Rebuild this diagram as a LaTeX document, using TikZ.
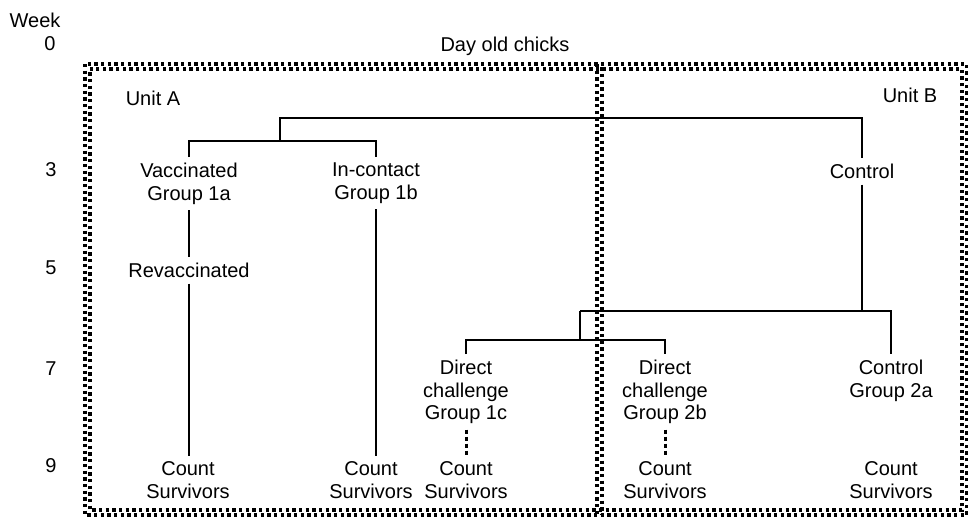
\documentclass[tikz,border=0pt]{standalone}
\usepackage{fontspec}
\setmainfont{Liberation Sans}
\begin{document}
\begin{tikzpicture}[x=0.75pt,y=-0.75pt,
  lbl/.style={inner sep=0pt, outer sep=4.5pt, align=center, anchor=north, font=\fontsize{15}{16.9}\selectfont},
  conn/.style={line width=1.5pt},
  dotconn/.style={line width=2.25pt, dash pattern=on 3pt off 2.25pt},
  brd/.style={line width=2.5pt, dash pattern=on 2.5pt off 2.5pt},
  brdB/.style={brd, dash phase=2.5pt}]
\useasboundingbox (0,0) rectangle (968,519);
% borders
\draw[brd] (85,64) rectangle (967,515);
\draw[brdB] (90,69) rectangle (962,510);
\draw[brd] (597,64) -- (597,515);
\draw[brdB] (602,64) -- (602,515);
% week scale
\node[lbl] (week) at (35,7) {Week};
\node[lbl] (n0) at (50,31) {0};
\node[lbl] (n3) at (51,157) {3};
\node[lbl] (n5) at (51,255) {5};
\node[lbl] (n7) at (51,356) {7};
\node[lbl] (n9) at (51,453) {9};
% labels
\node[lbl] (day) at (505,31) {Day old chicks};
\node[lbl] (unitA) at (153,85) {Unit A};
\node[lbl] (unitB) at (910,82) {Unit B};
\node[lbl] (g1a) at (189,157) {Vaccinated\\Group 1a};
\node[lbl] (g1b) at (376,157) {In-contact\\Group 1b};
\node[lbl] (control) at (862,158) {Control};
\node[lbl] (reva) at (189,257) {Revaccinated};
\node[lbl] (g1c) at (466,354) {Direct\\challenge\\Group 1c};
\node[lbl] (g2b) at (665,354) {Direct\\challenge\\Group 2b};
\node[lbl] (g2a) at (891,354) {Control\\Group 2a};
\node[lbl] (cs1) at (188,456) {Count\\Survivors};
\node[lbl] (cs2) at (371,456) {Count\\Survivors};
\node[lbl] (cs3) at (466,456) {Count\\Survivors};
\node[lbl] (cs4) at (665,456) {Count\\Survivors};
\node[lbl] (cs5) at (891,456) {Count\\Survivors};
% junctions
\coordinate (t0) at (280,118);
\coordinate (t1) at (280,141);
\coordinate (t2) at (862,311);
\coordinate (t3) at (580,311);
\coordinate (t4) at (580,340);
% connectors
\draw[conn] (g1a.north) |- (t1) -| (g1b.north);
\draw[conn] (t1) -- (t0) -| (control.north);
\draw[conn] (g1a.south) -- (g1a.south |- reva.north);
\draw[conn] (reva.south) -- (reva.south |- cs1.north);
\draw[conn] (g1b.south) -- (g1b.south |- cs2.north);
\draw[conn] (control.south) -- (t2);
\draw[conn] (t3) -| (g2a.north);
\draw[conn] (t3) -- (t4);
\draw[conn] (g1c.north) |- (t4) -| (g2b.north);
\draw[dotconn] (g1c.south) -- (g1c.south |- cs3.north);
\draw[dotconn] (g2b.south) -- (g2b.south |- cs4.north);
\end{tikzpicture}
\end{document}
